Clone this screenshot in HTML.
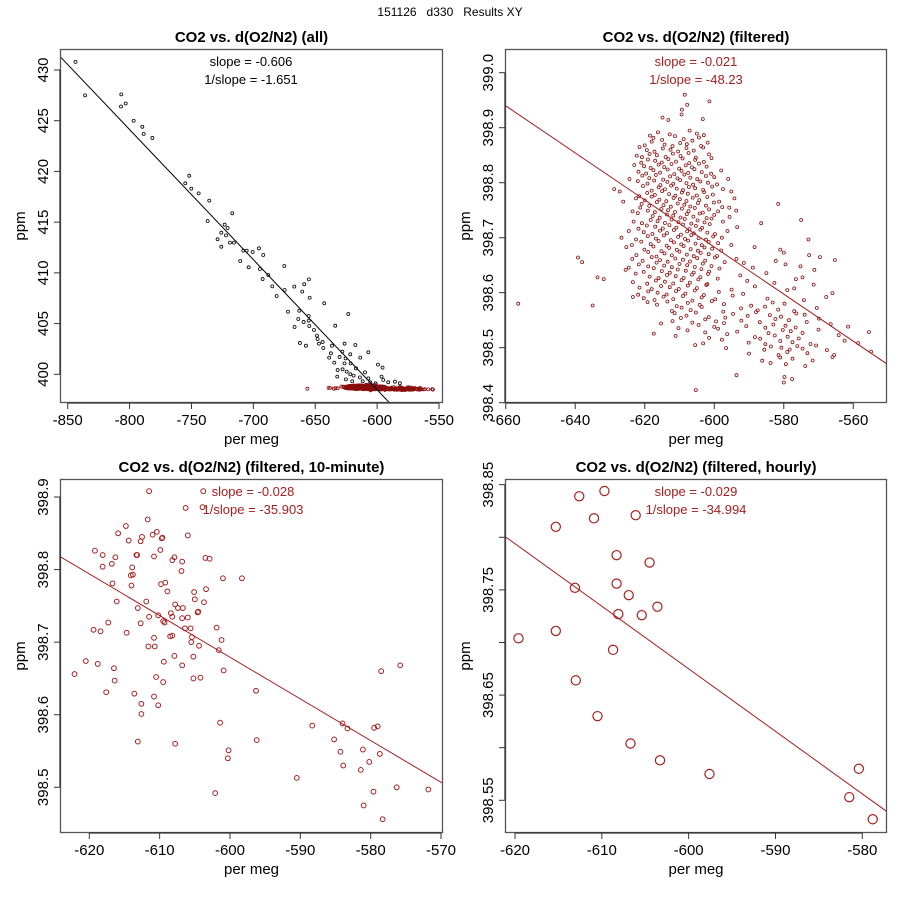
<!DOCTYPE html>
<html><head><meta charset="utf-8"><title>151126 d330 Results XY</title>
<style>
html,body{margin:0;padding:0;background:#fff;}
svg{display:block;font-family:"Liberation Sans",sans-serif;}
</style></head>
<body>
<svg id="chart" width="900" height="900" viewBox="0 0 900 900" xmlns="http://www.w3.org/2000/svg">
<rect x="0" y="0" width="900" height="900" fill="#fff"/>
<text x="450" y="16" text-anchor="middle" font-size="12" fill="#000">151126&#160;&#160;&#160;d330&#160;&#160;&#160;Results XY</text>
</svg>
<script>
// ---------- data ----------
const P1_BLACK_X=[-843.7,-836,-806.7,-806.9,-803.1,-796.7,-789.7,-788.6,-781.6,-751.8,-755.0,-750.1,-744.2,-735.6,-717.0,-736.9,-723.2,-720.8,-725.9,-722.1,-728.9,-718.9,-715.7,-725.9,-708.1,-705.4,-700.6,-695.5,-692.0,-710.6,-703.8,-694.7,-675.0,-687.9,-692.5,-655.1,-658.9,-666.9,-684.7,-674.7,-660.5,-681.2,-654.5,-642.7,-672.0,-662.9,-655.3,-623.3,-663.7,-655.3,-659.4,-654.8,-666.7,-633.8,-651.0,-648.6,-648.1,-644.0,-662.4,-657.5,-647.0,-643.5,-636.5,-626.3,-617.6,-628.1,-637.3,-621.7,-607.1,-638.7,-630.3,-625.5,-613.6,-634.6,-626.3,-621.4,-631.9,-627.9,-624.6,-617.1,-609.8,-599.3,-595.6,-632.2,-621.7,-619.0,-613.9,-607.1,-595.0,-591.0,-585.6,-625.2,-620.1,-611.7,-605.5,-581.6,-601.2,-596.4];
const P1_BLACK_Y=[430.8,427.5,427.6,426.4,426.7,425.0,424.4,423.7,423.3,419.58,418.83,418.30,417.84,417.12,415.87,415.11,414.75,414.42,413.96,413.70,413.31,412.98,412.98,412.58,412.19,412.19,412.06,412.42,411.76,411.17,410.55,410.38,410.68,409.79,409.39,409.36,408.87,408.64,408.67,408.31,408.15,407.72,407.55,407.00,406.17,406.27,405.75,405.94,405.45,405.29,405.16,404.76,404.66,404.79,404.37,403.81,403.48,403.18,403.09,402.82,403.02,402.59,402.82,403.02,402.89,402.23,402.07,401.97,402.17,401.64,401.71,401.57,401.64,401.15,401.08,401.08,400.42,400.49,400.26,400.59,400.19,400.95,400.66,399.77,400.00,399.87,399.70,399.60,399.44,399.21,399.27,399.50,399.31,399.31,399.21,399.11,399.11,399.77];

const P2_ROW_Y=[398.96,398.945,398.93,398.92,398.91,398.89,398.88,398.87,398.86,398.85,398.84,398.83,398.82,398.81,398.80,398.79,398.78,398.77,398.76,398.75,398.74,398.73,398.72,398.71,398.70,398.69,398.68,398.67,398.66,398.65,398.64,398.63,398.62,398.61,398.60,398.59,398.58,398.57,398.56,398.55,398.54,398.53,398.52,398.51,398.50,398.49,398.48,398.47,398.45,398.44,398.42];
const P2_ROW_X=[
[-608.5],
[-607.8,-601.4],
[-609.3],
[-614.9,-609.4,-603.3],
[-613.2],
[-618.5,-616.2,-612.8,-607.1,-605.0,-603.0],
[-617.5,-615.0,-611.3,-608.8,-606.3,-604.4],
[-620.0,-618.0,-614.3,-612.0,-609.8,-607.9,-603.8,-601.9],
[-621.5,-619.4,-617.2,-614.8,-612.6,-610.4,-608.0,-605.9,-603.2],
[-622.3,-620.8,-618.6,-616.5,-614.0,-611.9,-609.7,-607.4,-605.3,-601.5],
[-621.0,-619.1,-617.0,-615.1,-613.2,-611.0,-609.1,-607.2,-605.5,-603.0,-600.8],
[-623.0,-620.2,-618.3,-616.0,-614.4,-612.3,-610.1,-608.2,-606.4,-604.4,-602.2],
[-621.8,-619.6,-617.5,-615.6,-613.4,-611.5,-609.4,-607.5,-605.7,-603.6,-600.9,-598.0],
[-624.4,-620.7,-618.7,-616.8,-614.7,-612.7,-610.6,-608.6,-606.9,-604.9,-602.4,-600.0,-596.0],
[-622.0,-619.2,-617.3,-615.5,-613.5,-611.8,-609.8,-608.0,-606.1,-604.0,-601.8,-599.2],
[-628.8,-620.5,-618.0,-616.0,-614.2,-612.4,-610.8,-609.0,-607.3,-605.5,-603.2,-600.6,-597.5],
[-627.2,-621.6,-619.3,-617.1,-615.0,-613.0,-611.2,-609.3,-607.6,-605.0,-602.9,-600.4,-595.1],
[-626.2,-622.5,-620.0,-618.0,-615.8,-613.8,-611.7,-609.9,-608.0,-606.2,-604.3,-602.0,-598.6,-594.2],
[-620.9,-618.7,-616.5,-614.6,-612.5,-610.5,-608.6,-606.9,-604.7,-602.4,-600.1,-597.7,-581.6],
[-623.5,-621.3,-619.1,-617.1,-615.2,-613.3,-611.3,-609.3,-607.4,-605.6,-603.3,-601.5,-598.9,-595.7,-593.7],
[-622.0,-617.7,-615.7,-613.6,-611.8,-609.7,-607.9,-606.0,-604.2,-602.2,-600.0,-595.6],
[-623.2,-620.8,-618.3,-616.3,-614.2,-612.3,-610.3,-608.5,-606.6,-604.8,-602.8,-600.8,-597.5,-586.5,-575.0],
[-621.8,-619.4,-617.0,-614.8,-612.9,-610.9,-609.0,-607.1,-605.3,-603.5,-601.3,-593.4],
[-624.6,-620.3,-617.8,-615.6,-613.6,-611.6,-609.6,-607.8,-605.9,-604.0,-602.0,-599.8,-596.2],
[-626.7,-622.5,-619.1,-616.8,-614.5,-612.5,-610.4,-608.4,-606.6,-604.5,-602.4,-600.3,-597.8,-572.9],
[-623.7,-621.0,-618.3,-616.0,-613.7,-611.6,-609.5,-607.5,-605.4,-603.6,-601.6,-598.9,-595.1],
[-625.3,-620.1,-617.5,-615.2,-613.0,-610.8,-608.8,-606.8,-604.7,-602.8,-600.6,-598.0,-588.4,-581.0],
[-622.4,-619.0,-616.6,-614.3,-612.2,-610.0,-607.9,-605.9,-603.9,-601.6,-599.2,-580.0,-572.7],
[-639.2,-638.0,-623.6,-620.6,-618.0,-615.6,-613.4,-611.2,-609.0,-607.0,-604.9,-602.6,-599.8,-597.0,-593.6,-582.3,-569.6,-565.3],
[-624.6,-621.7,-619.0,-616.6,-614.4,-612.2,-610.0,-607.8,-605.6,-603.3,-600.8,-591.5,-588.9,-579.5,-575.2],
[-625.5,-620.3,-617.4,-615.1,-612.8,-610.5,-608.2,-605.9,-603.7,-601.5,-598.5,-585.0,-571.2],
[-633.6,-622.6,-618.6,-616.0,-613.6,-611.1,-608.8,-606.4,-604.0,-601.8,-599.0,-592.5,-574.6],
[-631.8,-623.4,-619.3,-616.8,-614.2,-611.8,-609.4,-607.0,-604.6,-602.0,-590.5,-582.7,-576.5],
[-621.5,-618.0,-615.3,-612.8,-610.2,-607.6,-605.0,-602.3,-595.0,-588.3,-577.0,-571.4],
[-621.9,-619.0,-616.3,-613.7,-611.0,-608.3,-605.6,-603.0,-598.7,-591.7,-579.0,-566.0],
[-623.4,-620.3,-617.2,-614.6,-611.8,-609.0,-606.3,-603.6,-599.7,-594.7,-584.7,-574.2,-567.8],
[-656.4,-635.0,-619.2,-616.5,-613.5,-610.8,-607.6,-604.2,-600.7,-597.2,-589.4,-583.2,-579.8],
[-612.2,-609.4,-606.8,-603.6,-597.4,-592.3,-587.5,-585.4,-581.6,-577.0,-570.5],
[-611.4,-608.0,-605.3,-601.6,-594.6,-590.4,-588.0,-584.0,-580.8,-576.4,-574.0],
[-612.0,-609.6,-606.3,-602.6,-599.5,-596.8,-592.2,-586.9,-582.4,-578.5,-573.4,-569.9],
[-615.3,-610.3,-604.5,-600.0,-597.2,-590.8,-585.3,-583.0,-579.5,-576.6,-566.5,-561.5],
[-617.4,-607.7,-602.6,-598.9,-593.4,-584.4,-580.3,-578.0,-574.6,-570.0,-555.5],
[-611.1,-601.5,-596.3,-588.3,-586.8,-582.6,-578.9,-575.7,-564.2],
[-603.2,-597.8,-590.1,-585.3,-581.0,-577.5,-572.3,-562.5,-558.6],
[-605.5,-596.6,-585.6,-583.7,-580.7,-578.3,-576.1,-574.6,-570.7,-567.6],
[-590.0,-581.5,-579.0,-573.2,-565.5,-554.9],
[-586.2,-581.0,-577.5,-571.7,-566.0],
[-583.8,-579.4,-573.8],
[-593.6,-579.8],
[-580.0,-577.6],
[-605.3]
];

const P3_X=[-611.5,-603.8,-606.3,-603.9,-611.7,-614.8,-615.9,-610.4,-611.0,-614.4,-612.5,-612.7,-609.6,-609.7,-606.0,-619.2,-609.9,-618.1,-616.3,-613.2,-613.3,-610.8,-607.9,-608.2,-606.8,-603.5,-602.9,-618.1,-616.8,-613.9,-613.8,-614.1,-606.9,-601.0,-598.3,-616.7,-614.0,-609.2,-609.8,-608.9,-605.1,-603.4,-605.0,-616.1,-611.9,-603.7,-607.8,-607.4,-606.7,-613.1,-604.5,-604.6,-608.4,-608.2,-611.5,-610.2,-606.8,-606.0,-609.5,-609.3,-617.3,-612.7,-606.4,-605.6,-601.9,-619.4,-618.4,-614.7,-608.5,-608.2,-610.8,-605.4,-601.2,-605.5,-611.6,-610.7,-604.4,-601.6,-607.9,-605.2,-620.5,-618.8,-609.4,-606.8,-616.5,-622.1,-600.9,-578.5,-575.8,-616.4,-610.5,-609.5,-605.2,-604.2,-617.6,-613.6,-610.8,-596.3,-612.6,-610.2,-612.6,-601.4,-588.3,-584.0,-583.3,-579.5,-579.0,-613.1,-607.8,-596.2,-585.2,-600.2,-600.3,-581.1,-584.3,-578.7,-580.2,-583.9,-581.4,-590.5,-602.1,-579.6,-576.3,-571.8,-581.0,-578.3];
const P3_Y=[398.908,398.908,398.885,398.886,398.869,398.860,398.850,398.852,398.848,398.840,398.845,398.839,398.844,398.843,398.847,398.826,398.827,398.820,398.817,398.820,398.820,398.818,398.817,398.813,398.811,398.816,398.815,398.804,398.808,398.803,398.793,398.792,398.798,398.788,398.788,398.781,398.778,398.782,398.780,398.770,398.769,398.773,398.759,398.756,398.756,398.755,398.752,398.747,398.747,398.747,398.742,398.741,398.740,398.735,398.735,398.737,398.733,398.734,398.729,398.727,398.727,398.726,398.719,398.719,398.720,398.717,398.715,398.713,398.708,398.709,398.706,398.707,398.703,398.700,398.694,398.694,398.695,398.689,398.681,398.680,398.674,398.670,398.673,398.668,398.664,398.656,398.661,398.660,398.668,398.647,398.652,398.645,398.650,398.651,398.631,398.629,398.625,398.633,398.615,398.613,398.601,398.589,398.585,398.588,398.581,398.582,398.584,398.563,398.560,398.565,398.566,398.551,398.540,398.552,398.549,398.546,398.535,398.530,398.524,398.513,398.492,398.494,398.500,398.497,398.475,398.456];

const P4_X=[-612.6,-609.7,-615.3,-610.9,-606.1,-608.3,-604.5,-613.1,-608.3,-606.9,-603.6,-608.1,-605.4,-619.6,-615.3,-608.7,-613.0,-610.5,-606.7,-603.3,-597.6,-580.4,-581.5,-578.8];
const P4_Y=[398.839,398.844,398.810,398.818,398.821,398.783,398.776,398.752,398.756,398.745,398.734,398.727,398.726,398.704,398.711,398.693,398.664,398.630,398.604,398.588,398.575,398.580,398.553,398.532];

const FIT_INTERCEPT=[321.52,396.115,395.234,395.108];
const FIT_SLOPE=[-0.12826,-0.00428,-0.005742,-0.005945];
const SLOPE_LABELS=["slope = -0.606","slope = -0.021","slope = -0.028","slope = -0.029"];
const INV_SLOPE_LABELS=["1/slope = -1.651","1/slope = -48.23","1/slope = -35.903","1/slope = -34.994"];
const TITLES=["CO2 vs. d(O2/N2) (all)","CO2 vs. d(O2/N2) (filtered)","CO2 vs. d(O2/N2) (filtered, 10-minute)","CO2 vs. d(O2/N2) (filtered, hourly)"];
const X_TICKS=[[-850,-800,-750,-700,-650,-600,-550],[-660,-640,-620,-600,-580,-560],[-620,-610,-600,-590,-580,-570],[-620,-610,-600,-590,-580]];
const Y_TICKS=[[400,405,410,415,420,425,430],[398.4,398.5,398.6,398.7,398.8,398.9,399.0],[398.5,398.6,398.7,398.8,398.9],[398.55,398.6,398.65,398.7,398.75,398.8,398.85]];
const Y_TICK_LABELS=[["400","405","410","415","420","425","430"],["398.4","398.5","398.6","398.7","398.8","398.9","399.0"],["398.5","398.6","398.7","398.8","398.9"],["398.55","","398.65","","398.75","","398.85"]];

// ---------- layout (pixel geometry, not data) ----------
const PANELS=[
 {L:60,R:443,T:49,B:403,xa:[-850,67.7,-550,439],ya:[400,374.3,430,70],cx:251},
 {L:505,R:887,T:49,B:403,xa:[-660,505.7,-560,853.3],ya:[398.4,402.7,399.0,72.7],cx:696},
 {L:60,R:443,T:479,B:833,xa:[-620,89.3,-570,441],ya:[398.5,787.3,398.9,497],cx:253},
 {L:505,R:887,T:479,B:833,xa:[-620,515,-580,862.3],ya:[398.55,800.3,398.85,484.7],cx:696}
];
const DITHER=[0,1.8,-1.6,0.9,-2.2,2.4,-0.8,1.2,-2.6,0.4,2.0,-1.2];
const RED="#8b0f0f";
const NS="http://www.w3.org/2000/svg";
const svg=document.getElementById('chart');
function mk(tag,attrs,parent){const e=document.createElementNS(NS,tag);for(const k in attrs)e.setAttribute(k,attrs[k]);(parent||svg).appendChild(e);return e;}
function scale(a){return v=>a[1]+(v-a[0])*(a[3]-a[1])/(a[2]-a[0]);}

PANELS.forEach((p,i)=>{
  const sx=scale(p.xa), sy=scale(p.ya);
  const g=mk('g',{});
  
  
  const cp=mk('clipPath',{id:'clip'+i},g);
  mk('rect',{x:p.L,y:p.T,width:p.R-p.L,height:p.B-p.T},cp);

  const title=mk('text',{x:(p.L+p.R)/2,y:p.T-7,'text-anchor':'middle','font-size':15,'font-weight':'bold',fill:'#000'},g);
  title.textContent=TITLES[i];
  
  

  const pts=mk('g',{'clip-path':'url(#clip'+i+')'},g);
  
  
  const r=i<2?1.5:(i===2?2.4:4.6);
  const sw=i<2?0.8:(i===2?1:1.2);
  function dot(x,y,col,dy){
    const c=mk('circle',{cx:sx(x).toFixed(2),cy:(sy(y)+(dy||0)).toFixed(2),r:r,fill:'none',stroke:col,'stroke-width':sw},pts);
    
    
  }
  if(i===0){
    P1_BLACK_X.forEach((x,k)=>dot(x,P1_BLACK_Y[k],'#000'));
  }
  if(i===0||i===1){
    P2_ROW_Y.forEach((y,k)=>P2_ROW_X[k].forEach((x,j)=>dot(x,y,RED,i===1?DITHER[(j+k)%DITHER.length]:0)));
  }
  if(i===2){P3_X.forEach((x,k)=>dot(x,P3_Y[k],'#a52020'));}
  if(i===3){P4_X.forEach((x,k)=>dot(x,P4_Y[k],'#a52020'));}

  const x0=p.xa[0]-(p.xa[1]-p.L)*(p.xa[2]-p.xa[0])/(p.xa[3]-p.xa[1]);
  const x1=p.xa[0]+(p.R-p.xa[1])*(p.xa[2]-p.xa[0])/(p.xa[3]-p.xa[1]);
  const ln=mk('line',{x1:sx(x0),y1:sy(FIT_INTERCEPT[i]+FIT_SLOPE[i]*x0),x2:sx(x1),y2:sy(FIT_INTERCEPT[i]+FIT_SLOPE[i]*x1),stroke:i===0?'#000':'#a52020','stroke-width':1,'clip-path':'url(#clip'+i+')'},g);
  
  

  const t1=mk('text',{x:p.cx,y:p.T+17,'text-anchor':'middle','font-size':13,fill:i===0?'#000':'#a52020'},g);
  t1.textContent=SLOPE_LABELS[i];
  
  
  const t2=mk('text',{x:p.cx,y:p.T+35,'text-anchor':'middle','font-size':13,fill:i===0?'#000':'#a52020'},g);
  t2.textContent=INV_SLOPE_LABELS[i];
  
  

  const box=mk('rect',{x:p.L+0.5,y:p.T+0.5,width:p.R-p.L-1,height:p.B-p.T-1,fill:'none',stroke:'#555','stroke-width':1.3},g);
  
  

  const xt=X_TICKS[i];
  const xaxis=mk('g',{},g);
  
  
  mk('line',{x1:sx(xt[0]),x2:sx(xt[xt.length-1]),y1:p.B,y2:p.B,stroke:'#333','stroke-width':1.3},xaxis);
  xt.forEach(v=>{
    const X=sx(v);
    mk('line',{x1:X,x2:X,y1:p.B,y2:p.B+6,stroke:'#333','stroke-width':1},xaxis);
    const tl=mk('text',{x:X,y:p.B+22,'text-anchor':'middle','font-size':15,fill:'#000'},xaxis);
    tl.textContent=String(v);
    
    
  });
  const xl=mk('text',{x:(p.L+p.R)/2,y:p.B+41,'text-anchor':'middle','font-size':15,fill:'#000'},g);
  xl.textContent='per meg';
  
  

  const yt=Y_TICKS[i];
  const yaxis=mk('g',{},g);
  
  
  mk('line',{x1:p.L,x2:p.L,y1:sy(yt[0]),y2:sy(yt[yt.length-1]),stroke:'#333','stroke-width':1.3},yaxis);
  yt.forEach((v,k)=>{
    const Y=sy(v);
    mk('line',{x1:p.L-6,x2:p.L,y1:Y,y2:Y,stroke:'#333','stroke-width':1},yaxis);
    if(Y_TICK_LABELS[i][k]){
      const tx=p.L-12;
      const tl=mk('text',{x:tx,y:Y,'text-anchor':'middle','font-size':15,fill:'#000',transform:'rotate(-90 '+tx+' '+Y+')'},yaxis);
      tl.textContent=Y_TICK_LABELS[i][k];
      
      
    }
  });
  const yx=p.L-35, ym=(p.T+p.B)/2;
  const yl=mk('text',{x:yx,y:ym,'text-anchor':'middle','font-size':15,fill:'#000',transform:'rotate(-90 '+yx+' '+ym+')'},g);
  yl.textContent='ppm';
  
  
});
</script>
</body></html>
